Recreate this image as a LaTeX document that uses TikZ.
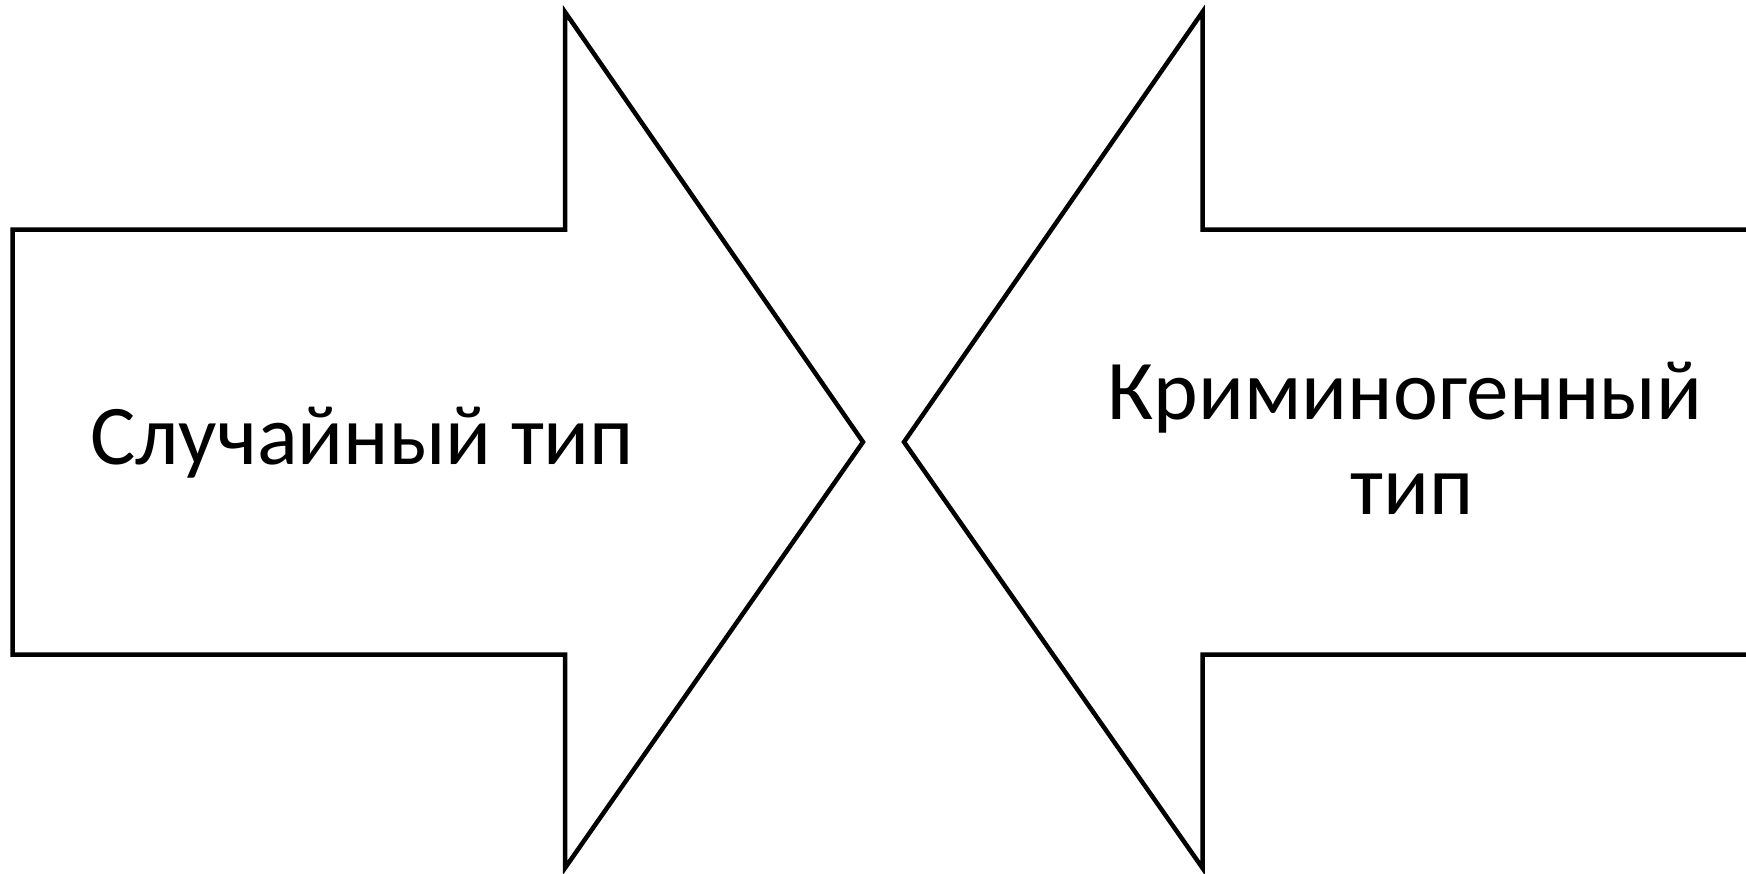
\documentclass[tikz,border=0pt]{standalone}
\usepackage{fontspec}
\setmainfont{Carlito}
\begin{document}
\begin{tikzpicture}[x=1pt,y=-1pt,
  arrowshape/.style={draw=black,line width=4.5pt,line join=miter,fill=white},
  label/.style={font=\fontsize{85}{95}\selectfont,align=center,inner sep=0pt,anchor=base}]
\useasboundingbox (0,0) rectangle (1746,873);
\clip (0,0) rectangle (1746,873);
\fill[white] (0,0) rectangle (1746,873);
% left arrow
\draw[arrowshape] (12.5,229.5) -- (565,229.5) -- (565,12) -- (863,442) -- (565,868) -- (565,654.5) -- (12.5,654.5) -- cycle;
% right arrow
\draw[arrowshape] (1760,229.5) -- (1202.5,229.5) -- (1202.5,12) -- (904,442) -- (1202.5,868) -- (1202.5,654.5) -- (1760,654.5);
\node[label] (t1) at (362,464) {Случайный тип};
\node[label] (t2) at (1405,419) {Криминогенный};
\node[label] (t3) at (1412,514) {тип};
\end{tikzpicture}
\end{document}
